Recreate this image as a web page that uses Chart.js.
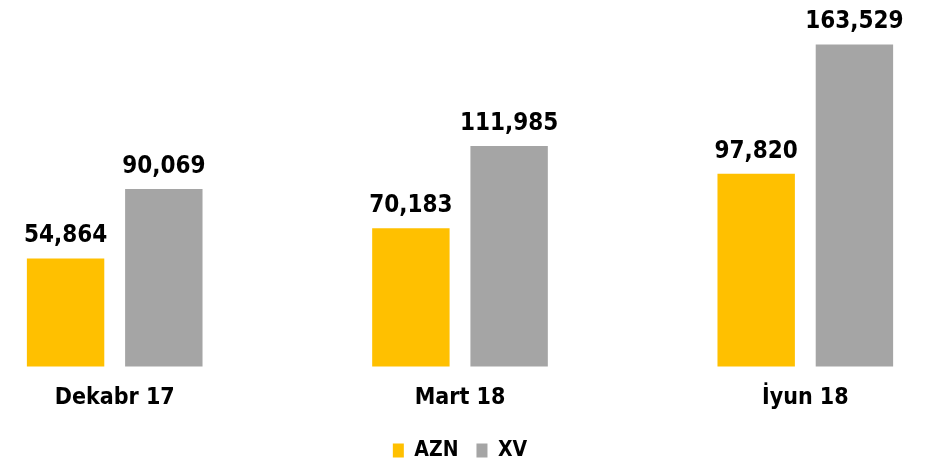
<!DOCTYPE html>
<html>
<head>
<meta charset="utf-8">
<script src="https://cdn.jsdelivr.net/npm/chart.js@4.4.1/dist/chart.umd.min.js"></script>
<style>
  html, body { margin: 0; padding: 0; background: #fff; }
</style>
</head>
<body>
<canvas id="myBarChart" width="931" height="464"></canvas>
<script>
const categories = ['Dekabr 17', 'Mart 18', 'İyun 18'];
const seriesNames = ['AZN', 'XV'];
const aznValues = [54864, 70183, 97820];
const xvValues = [90069, 111985, 163529];
const seriesColors = ['#FFC000', '#A5A5A5'];

const FONT = "'DejaVu Sans Condensed', 'DejaVu Sans', sans-serif";

// draws the numbers above each bar
const valueLabels = {
    id: 'valueLabels',
    afterDatasetsDraw(chart) {
        const ctx = chart.ctx;
        ctx.save();
        ctx.font = 'bold 24px ' + FONT;
        ctx.fillStyle = '#000';
        ctx.textAlign = 'center';
        ctx.textBaseline = 'alphabetic';
        chart.data.datasets.forEach(function (ds, i) {
            chart.getDatasetMeta(i).data.forEach(function (bar, j) {
                ctx.fillText(ds.data[j].toLocaleString('en-US'), bar.x, bar.y - 16);
            });
        });
        ctx.restore();
    }
};

const ctx = document.getElementById('myBarChart').getContext('2d');
new Chart(ctx, {
    type: 'bar',
    data: {
        labels: categories,
        datasets: [
            { label: seriesNames[0], data: aznValues, backgroundColor: seriesColors[0], clip: false },
            { label: seriesNames[1], data: xvValues, backgroundColor: seriesColors[1], clip: false }
        ]
    },
    options: {
        responsive: false,
        animation: false,
        categoryPercentage: 0.569,
        barPercentage: 0.788,
        layout: { padding: { left: 114.7, right: 125.7, top: 12, bottom: -7 } },
        scales: {
            x: {
                offset: false,
                grid: { display: false },
                border: { display: false },
                ticks: {
                    color: '#000',
                    font: { family: FONT, size: 23, weight: 'bold' },
                    maxRotation: 0,
                    autoSkip: false,
                    padding: 10
                }
            },
            y: { display: false, min: 0, max: 180000 }
        },
        plugins: {
            legend: {
                position: 'bottom',
                labels: {
                    color: '#000',
                    font: { family: FONT, size: 21, weight: 'bold' },
                    boxWidth: 11,
                    boxHeight: 14,
                    padding: 18
                }
            },
            tooltip: { enabled: false }
        }
    },
    plugins: [valueLabels]
});
</script>
</body>
</html>
